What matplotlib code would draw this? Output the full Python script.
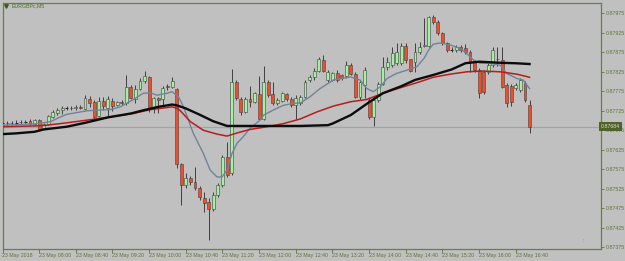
import matplotlib
matplotlib.use('Agg')
import matplotlib.pyplot as plt
import matplotlib.transforms as mtransforms
import numpy as np

plt.rcParams['font.family'] = ['Liberation Sans', 'DejaVu Sans']

# EURGBPc M5 candles, prices in points (1e-5)
opens = [87693, 87693, 87694, 87694, 87695, 87697, 87699, 87691, 87701, 87680,
         87691, 87709, 87719, 87727, 87732, 87732, 87732, 87735, 87730, 87756,
         87747, 87712, 87750, 87733, 87751, 87741, 87748, 87744, 87786, 87756,
         87782, 87801, 87811, 87731, 87757, 87755, 87788, 87787, 87781, 87588,
         87534, 87552, 87543, 87527, 87501, 87491, 87474, 87508, 87534, 87607,
         87564, 87799, 87754, 87722, 87754, 87748, 87768, 87703, 87798, 87767,
         87744, 87751, 87768, 87754, 87739, 87744, 87761, 87804, 87811, 87828,
         87855, 87804, 87804, 87821, 87817, 87814, 87842, 87819, 87761, 87791,
         87752, 87709, 87752, 87793, 87838, 87842, 87847, 87847, 87891, 87857,
         87851, 87875, 87891, 87892, 87966, 87953, 87924, 87898, 87882, 87881,
         87889, 87886, 87876, 87850, 87829, 87824, 87824, 87842, 87858, 87855,
         87791, 87788, 87783, 87778, 87796, 87739]
highs = [87698, 87698, 87698, 87700, 87701, 87701, 87704, 87704, 87704, 87693,
         87714, 87727, 87732, 87737, 87737, 87737, 87739, 87739, 87765, 87763,
         87752, 87760, 87760, 87763, 87757, 87750, 87752, 87817, 87791, 87791,
         87809, 87827, 87814, 87761, 87760, 87788, 87793, 87811, 87783, 87591,
         87565, 87557, 87580, 87532, 87517, 87501, 87516, 87539, 87611, 87645,
         87831, 87804, 87761, 87761, 87788, 87774, 87814, 87840, 87804, 87799,
         87757, 87774, 87770, 87761, 87765, 87765, 87804, 87817, 87834, 87864,
         87868, 87829, 87824, 87829, 87819, 87852, 87848, 87825, 87804, 87838,
         87761, 87761, 87799, 87864, 87864, 87889, 87898, 87898, 87898, 87859,
         87898, 87902, 87963, 87968, 87971, 87958, 87928, 87902, 87889, 87894,
         87894, 87896, 87881, 87855, 87834, 87829, 87847, 87888, 87888, 87888,
         87796, 87793, 87796, 87809, 87801, 87752]
lows = [87688, 87688, 87688, 87689, 87691, 87694, 87688, 87688, 87675, 87678,
        87688, 87706, 87714, 87716, 87727, 87727, 87727, 87729, 87727, 87734,
        87706, 87709, 87727, 87709, 87724, 87737, 87739, 87739, 87756, 87745,
        87778, 87796, 87723, 87719, 87719, 87737, 87778, 87783, 87578, 87483,
        87526, 87534, 87521, 87496, 87466, 87393, 87467, 87503, 87529, 87555,
        87560, 87752, 87714, 87718, 87735, 87744, 87701, 87701, 87761, 87739,
        87739, 87748, 87751, 87735, 87705, 87739, 87757, 87799, 87804, 87825,
        87825, 87799, 87801, 87799, 87805, 87808, 87817, 87757, 87752, 87757,
        87705, 87686, 87748, 87791, 87829, 87838, 87842, 87842, 87847, 87825,
        87825, 87872, 87888, 87888, 87949, 87919, 87894, 87876, 87876, 87876,
        87875, 87870, 87824, 87824, 87757, 87768, 87819, 87837, 87840, 87783,
        87734, 87737, 87778, 87773, 87747, 87668]
closes = [87693, 87694, 87693, 87694, 87696, 87697, 87691, 87701, 87678, 87691,
          87711, 87721, 87728, 87732, 87732, 87733, 87734, 87732, 87759, 87745,
          87710, 87751, 87738, 87755, 87738, 87747, 87744, 87787, 87758, 87782,
          87802, 87814, 87730, 87759, 87752, 87784, 87787, 87802, 87588, 87534,
          87552, 87543, 87526, 87503, 87489, 87472, 87508, 87534, 87607, 87560,
          87799, 87757, 87721, 87754, 87748, 87770, 87703, 87799, 87765, 87746,
          87752, 87770, 87754, 87739, 87758, 87761, 87799, 87811, 87828, 87857,
          87828, 87825, 87821, 87805, 87808, 87842, 87819, 87761, 87799, 87829,
          87709, 87752, 87793, 87838, 87851, 87874, 87876, 87891, 87855, 87828,
          87876, 87888, 87894, 87965, 87953, 87924, 87898, 87882, 87882, 87889,
          87881, 87876, 87850, 87829, 87770, 87773, 87842, 87881, 87857, 87786,
          87745, 87747, 87791, 87804, 87752, 87684]

# moving averages read at bar positions
slate_x = [0, 6.8, 10.5, 12.6, 14.1, 18.5, 23.5, 25.7, 28.6, 30.7,
           32.3, 33.7, 35.9, 37, 38.4, 39.5, 41.6, 43.8, 45.3, 46.8,
           47.9, 49, 50.1, 51.2, 52.5, 54, 56.2, 57, 59.1, 61.3,
           63.5, 65, 67.1, 69.3, 72.2, 75.9, 78, 79.5, 80.9, 82.4,
           83.9, 86, 88.2, 90.4, 92, 93, 94, 95.5, 97.7, 99.8,
           101.3, 102.8, 104.2, 106.4, 108.6, 110, 112.2, 113.6, 115]
slate_y = [87688, 87691, 87697, 87709, 87716, 87725, 87728, 87735, 87754, 87770,
           87771, 87765, 87770, 87774, 87761, 87735, 87668, 87616, 87573, 87555,
           87555, 87573, 87616, 87642, 87658, 87680, 87701, 87714, 87727, 87739,
           87744, 87745, 87761, 87782, 87804, 87812, 87804, 87782, 87774, 87786,
           87808, 87821, 87829, 87838, 87860, 87881, 87896, 87899, 87894, 87885,
           87872, 87855, 87847, 87847, 87842, 87821, 87808, 87804, 87782]
red_x = [0, 7, 9, 14, 18.5, 23.5, 28.6, 32.3, 34.4, 37,
         38, 38.8, 41, 43.8, 46.8, 49, 51.2, 54, 57.7, 61.3,
         65, 68.6, 72.2, 75.9, 79.5, 83, 86.8, 90.4, 94, 97.7,
         101.3, 104.9, 108.6, 112.2, 115]
red_y = [87684, 87686, 87687, 87694, 87701, 87709, 87718, 87728, 87731, 87735,
         87732, 87725, 87697, 87675, 87665, 87660, 87668, 87677, 87684, 87692,
         87704, 87722, 87737, 87748, 87754, 87770, 87784, 87797, 87811, 87819,
         87825, 87827, 87825, 87819, 87811]
black_x = [0, 3, 7, 9, 14, 18, 23, 28, 31, 34,
           37, 38, 40, 43, 46, 49, 54, 65, 71, 72,
           76, 80, 83, 87, 90, 94, 98, 101, 104, 109,
           112, 115]
black_y = [87665, 87667, 87671, 87677, 87684, 87694, 87708, 87718, 87727, 87735,
           87741, 87739, 87731, 87715, 87698, 87686, 87686, 87686, 87688, 87692,
           87714, 87747, 87770, 87788, 87804, 87817, 87831, 87847, 87851, 87848,
           87847, 87845]

time_labels = ['23 May 2018', '23 May 08:00', '23 May 08:40', '23 May 09:20',
               '23 May 10:00', '23 May 10:40', '23 May 11:20', '23 May 12:00',
               '23 May 12:40', '23 May 13:20', '23 May 14:00', '23 May 14:40',
               '23 May 15:20', '23 May 16:00', '23 May 16:40']
price_ticks = [0.87375, 0.87425, 0.87475, 0.87525, 0.87575, 0.87625, 0.87675,
               0.87725, 0.87775, 0.87825, 0.87875, 0.87925, 0.87975]
last_price = '0.87684'

BG = '#c0c0c0'
FG = '#5f7436'
BULL = '#a2f0a0'
BEAR = '#f04e2a'
WICK = '#404040'

o = np.array(opens) / 1e5
h = np.array(highs) / 1e5
l = np.array(lows) / 1e5
c = np.array(closes) / 1e5
x = np.arange(len(o))

fig = plt.figure(figsize=(6.25, 2.61), dpi=100, facecolor=BG)
ax = fig.add_axes([2.5 / 625, 1 - 249 / 261, 598.5 / 625, 246.5 / 261])
ax.set_facecolor(BG)

# current price line
ax.axhline(c[-1], color='#a0a4ae', lw=0.9, zorder=1)

# candles
ax.vlines(x, l, h, color=WICK, lw=0.7, zorder=2)
up = c >= o
body = np.abs(c - o)
doji = body < 0.5e-5
w = 0.64
ax.bar(x[~doji], body[~doji], width=w, bottom=np.minimum(o, c)[~doji],
       color=np.where(up, BULL, BEAR)[~doji], edgecolor=WICK, lw=0.4, zorder=3)
ax.hlines(o[doji], x[doji] - w / 2, x[doji] + w / 2, color='#202020', lw=0.7, zorder=3)

# moving averages
ax.plot(slate_x, np.array(slate_y) / 1e5, color='#72829a', lw=1.0, zorder=4)
ax.plot(red_x, np.array(red_y) / 1e5, color='#b81c1c', lw=1.1, zorder=4)
ax.plot(black_x, np.array(black_y) / 1e5, color='#0c0c0c', lw=1.7, zorder=4)

ax.set_xlim(0.109, 130.59)
ax.set_ylim(0.87370, 0.88003)

for s in ax.spines.values():
    s.set_color('#6b7b4a')
    s.set_linewidth(0.9)

ax.yaxis.tick_right()
ax.set_yticks(price_ticks)
ax.set_yticklabels(['%.5f' % p for p in price_ticks])
ax.tick_params(axis='y', direction='out', length=2, width=0.6, color=FG,
               labelcolor=FG, labelsize=3.8, pad=1.5)

ax.set_xticks(np.arange(len(time_labels)) * 8)
ax.set_xticklabels(time_labels)
ax.tick_params(axis='x', direction='out', length=3, width=0.6, color=FG,
               labelcolor=FG, labelsize=3.8, pad=0.2)
for t in ax.get_xticklabels():
    t.set_ha('left')

# current price tag on the axis
tr = mtransforms.blended_transform_factory(ax.transAxes, ax.transData)
ax.text(1.0, c[-1], last_price, transform=tr, ha='left', va='center',
        fontsize=3.8, color='#dfe3cf', zorder=6, clip_on=False,
        bbox=dict(boxstyle='square,pad=0.35', fc='#4f6228', ec='none'))

# symbol caption
ax.plot([0.006], [0.986], marker='v', ms=2.6, color='#3d5a1c',
        transform=ax.transAxes, clip_on=False)
ax.text(0.016, 0.986, 'EURGBPc,M5', transform=ax.transAxes, ha='left',
        va='center', fontsize=3.8, color='#4f6b2a')
ax.text(0.97, 0.036, ':', transform=ax.transAxes, ha='center', va='center',
        fontsize=3.5, color='#707070')

fig.savefig('out.png', dpi=100, facecolor=BG)
